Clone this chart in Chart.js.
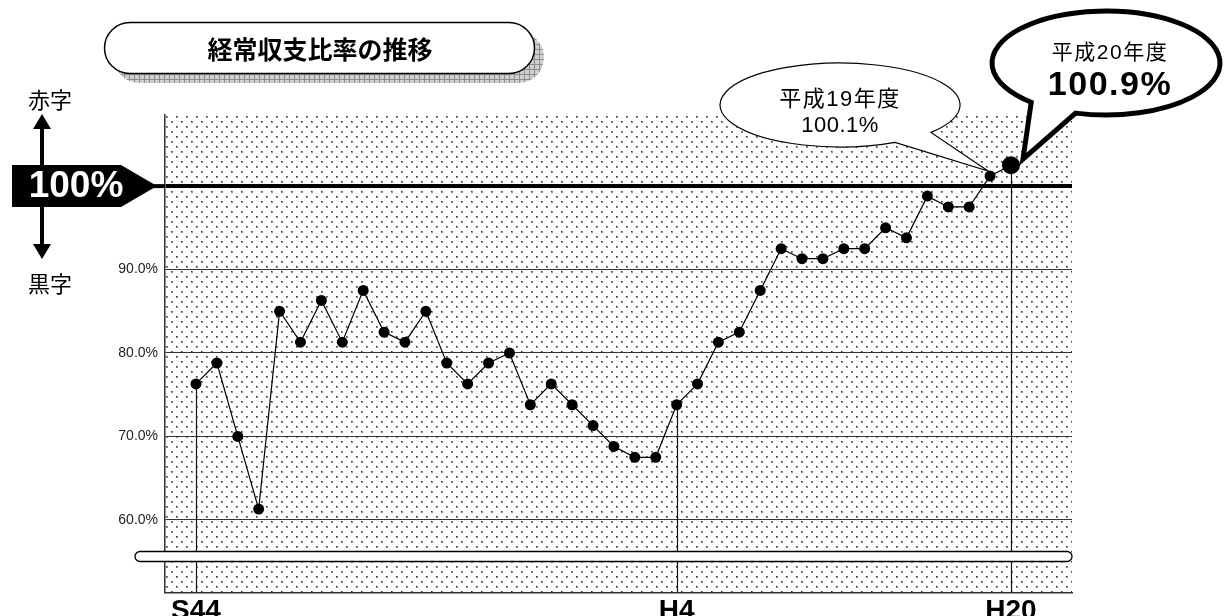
<!DOCTYPE html>
<html>
<head>
<meta charset="utf-8">
<script src="https://cdn.jsdelivr.net/npm/chart.js@4.4.0/dist/chart.umd.min.js"></script>
<style>
  html, body { margin: 0; padding: 0; background: #fff; }
  canvas { display: block; }
</style>
</head>
<body>
<canvas id="ratioChart" width="1225" height="616"></canvas>
<script>
// ── Data ─────────────────────────────────────────────────────
const YEARS = [
  1969, 1970, 1971, 1972, 1973, 1974, 1975, 1976, 1977, 1978,
  1979, 1980, 1981, 1982, 1983, 1984, 1985, 1986, 1987, 1988,
  1989, 1990, 1991, 1992, 1993, 1994, 1995, 1996, 1997, 1998,
  1999, 2000, 2001, 2002, 2003, 2004, 2005, 2006, 2007, 2008
];
const RATIO = [
  76.3, 78.8, 70.0, 61.3, 85.0, 81.3, 86.3, 81.3, 87.5, 82.5,
  81.3, 85.0, 78.8, 76.3, 78.8, 80.0, 73.8, 76.3, 73.8, 71.3,
  68.8, 67.5, 67.5, 73.8, 76.3, 81.3, 82.5, 87.5, 92.5, 91.3,
  91.3, 92.5, 92.5, 95.0, 93.8, 98.8, 97.5, 97.5, 101.2, 102.5
];
const X_TICK_YEARS  = [1969, 1992, 2008];
const X_TICK_LABELS = ['S44', 'H4', 'H20'];
const Y_TICKS       = [60, 70, 80, 90, 100];

const TITLE     = '経常収支比率の推移';
const BUBBLE_19 = ['平成19年度', '100.1%'];
const BUBBLE_20 = ['平成20年度', '100.9%'];

const FONT_LATIN = '"Liberation Sans", "Noto Sans CJK JP", sans-serif';
const FONT_JP    = '"Noto Sans CJK JP", "Liberation Sans", sans-serif';

// ── Patterns ─────────────────────────────────────────────────
function dotPattern(ctx) {
  const c = document.createElement('canvas');
  c.width = 10; c.height = 10;
  const g = c.getContext('2d');
  g.fillStyle = '#fff';
  g.fillRect(0, 0, 10, 10);
  g.fillStyle = '#8a8a8a';
  g.fillRect(1, 1, 2, 2);
  g.fillRect(6, 6, 2, 2);
  g.fillStyle = '#333';
  g.fillRect(1, 1, 1, 1);
  g.fillRect(6, 6, 1, 1);
  return ctx.createPattern(c, 'repeat');
}

function gridPattern(ctx) {
  const c = document.createElement('canvas');
  c.width = 5; c.height = 5;
  const g = c.getContext('2d');
  g.fillStyle = '#cfcfcf';
  g.fillRect(0, 0, 5, 5);
  g.fillStyle = '#8c8c8c';
  g.fillRect(4, 0, 1, 5);
  g.fillRect(0, 4, 5, 1);
  return ctx.createPattern(c, 'repeat');
}

// ── Helpers ──────────────────────────────────────────────────
function pill(ctx, x, y, w, h) {
  ctx.beginPath();
  ctx.roundRect(x, y, w, h, h / 2);
}

function bubble(ctx, cx, cy, rx, ry, aFrom, aTo, tip, lw) {
  const r = Math.PI / 180;
  ctx.beginPath();
  ctx.ellipse(cx, cy, rx, ry, 0, aFrom * r, aTo * r + Math.PI * 2, false);
  ctx.lineTo(tip.x, tip.y);
  ctx.closePath();
  ctx.fillStyle = '#fff';
  ctx.fill();
  ctx.lineWidth = lw;
  ctx.lineJoin = 'miter';
  ctx.strokeStyle = '#000';
  ctx.stroke();
}

function text(ctx, str, x, y, font, color, spacing) {
  ctx.font = font;
  ctx.fillStyle = color || '#000';
  ctx.textAlign = 'center';
  ctx.textBaseline = 'middle';
  ctx.letterSpacing = (spacing || 0) + 'px';
  ctx.fillText(str, x, y);
  ctx.letterSpacing = '0px';
}

function arrow(ctx, x, yFrom, yTo) {
  const dir = yTo < yFrom ? -1 : 1;
  ctx.strokeStyle = '#000';
  ctx.fillStyle = '#000';
  ctx.lineWidth = 4;
  ctx.beginPath();
  ctx.moveTo(x, yFrom);
  ctx.lineTo(x, yTo - dir * 14);
  ctx.stroke();
  ctx.beginPath();
  ctx.moveTo(x, yTo);
  ctx.lineTo(x - 9, yTo - dir * 15);
  ctx.lineTo(x + 9, yTo - dir * 15);
  ctx.closePath();
  ctx.fill();
}

// ── Plugins ──────────────────────────────────────────────────
const backdrop = {
  id: 'backdrop',
  beforeDraw(chart) {
    const { ctx, chartArea: a } = chart;
    ctx.save();
    ctx.fillStyle = '#fff';
    ctx.fillRect(0, 0, chart.width, chart.height);
    ctx.fillStyle = dotPattern(ctx);
    ctx.fillRect(a.left, a.top, a.right - a.left, a.bottom - a.top);
    ctx.restore();
  }
};

const dropLines = {
  id: 'dropLines',
  beforeDatasetsDraw(chart) {
    const { ctx, chartArea: a } = chart;
    const pts = chart.getDatasetMeta(0).data;
    ctx.save();
    ctx.strokeStyle = '#111';
    ctx.lineWidth = 1.2;
    X_TICK_YEARS.forEach(yr => {
      const p = pts[YEARS.indexOf(yr)];
      ctx.beginPath();
      ctx.moveTo(Math.round(p.x) + 0.5, p.y);
      ctx.lineTo(Math.round(p.x) + 0.5, a.bottom);
      ctx.stroke();
    });
    ctx.restore();
  },
  afterDatasetsDraw(chart) {
    // axis break bar
    const { ctx, chartArea: a } = chart;
    ctx.save();
    pill(ctx, a.left - 30, a.bottom - 41, a.right - a.left + 30, 10);
    ctx.fillStyle = '#fff';
    ctx.fill();
    ctx.lineWidth = 1.3;
    ctx.strokeStyle = '#000';
    ctx.stroke();
    ctx.restore();
  }
};

const decorations = {
  id: 'decorations',
  afterDraw(chart) {
    const { ctx, chartArea: a } = chart;
    const y100 = chart.scales.y.getPixelForValue(100);
    const pts = chart.getDatasetMeta(0).data;
    const p19 = pts[pts.length - 2];
    const p20 = pts[pts.length - 1];
    ctx.save();

    // title box with hatched shadow
    pill(ctx, 114, 32, 430, 51);
    ctx.fillStyle = gridPattern(ctx);
    ctx.fill();
    pill(ctx, 104.5, 22.5, 430, 51);
    ctx.fillStyle = '#fff';
    ctx.fill();
    ctx.lineWidth = 1.5;
    ctx.strokeStyle = '#000';
    ctx.stroke();
    text(ctx, TITLE, 320, 49, 'bold 25px ' + FONT_JP, '#000');

    // 赤字 / 黒字 arrows and 100% marker
    text(ctx, '赤字', 50, 100, '22px ' + FONT_JP);
    text(ctx, '黒字', 50, 284, '22px ' + FONT_JP);
    arrow(ctx, 42, y100, 114);
    arrow(ctx, 42, y100, 259);

    ctx.beginPath();
    ctx.moveTo(12, y100 - 21);
    ctx.lineTo(121, y100 - 21);
    ctx.lineTo(157, y100);
    ctx.lineTo(121, y100 + 21);
    ctx.lineTo(12, y100 + 21);
    ctx.closePath();
    ctx.fillStyle = '#000';
    ctx.fill();
    ctx.lineWidth = 4;
    ctx.beginPath();
    ctx.moveTo(150, y100);
    ctx.lineTo(a.left, y100);
    ctx.stroke();
    text(ctx, '100%', 76, y100 + 1, 'bold 37px ' + FONT_LATIN, '#fff');

    // speech bubbles
    bubble(ctx, 840, 105, 120, 42, 62.7, 40.7, { x: p19.x - 2, y: p19.y - 5 }, 1.2);
    text(ctx, BUBBLE_19[0], 840, 100, '22px ' + FONT_LATIN, '#000', 1.5);
    text(ctx, BUBBLE_19[1], 840, 126, '22px ' + FONT_LATIN, '#000', 0.5);

    bubble(ctx, 1106, 63, 114, 52, 131, 105.5, { x: p20.x + 12, y: p20.y - 6 }, 5);
    text(ctx, BUBBLE_20[0], 1110, 53, '21px ' + FONT_LATIN, '#000', 1.5);
    text(ctx, BUBBLE_20[1], 1110, 86, 'bold 34px ' + FONT_LATIN, '#000', 1.5);

    ctx.restore();
  }
};

// ── Chart ────────────────────────────────────────────────────
const last = YEARS.length - 1;

new Chart(document.getElementById('ratioChart').getContext('2d'), {
  type: 'line',
  data: {
    datasets: [{
      data: YEARS.map((yr, i) => ({ x: yr, y: RATIO[i] })),
      borderColor: '#000',
      borderWidth: 1.2,
      tension: 0,
      pointBackgroundColor: '#000',
      pointBorderWidth: 0,
      pointRadius: ctx => ctx.dataIndex === last ? 9 : 5.5,
      clip: false
    }]
  },
  options: {
    responsive: false,
    animation: false,
    devicePixelRatio: 1,
    layout: { padding: { left: 0, top: 115, right: 153, bottom: 0 } },
    plugins: { legend: { display: false }, tooltip: { enabled: false } },
    scales: {
      x: {
        type: 'linear',
        min: 1967.517,
        max: 2010.92,
        afterBuildTicks: s => { s.ticks = X_TICK_YEARS.map(v => ({ value: v })); },
        afterFit: s => { s.height = 23.5; },
        grid: { display: false },
        border: { display: true, color: '#333', width: 1.5 },
        ticks: {
          autoSkip: false,
          maxRotation: 0,
          padding: -6,
          color: '#000',
          font: { family: FONT_LATIN, size: 28, weight: 'bold' },
          callback: v => X_TICK_LABELS[X_TICK_YEARS.indexOf(v)]
        }
      },
      y: {
        min: 51.3,
        max: 108.52,
        afterBuildTicks: s => { s.ticks = Y_TICKS.map(v => ({ value: v })); },
        afterFit: s => { s.width = 165; },
        grid: {
          drawTicks: false,
          color: c => c.tick && c.tick.value === 100 ? '#000' : '#333',
          lineWidth: c => c.tick && c.tick.value === 100 ? 4 : 1
        },
        border: { display: true, color: '#333', width: 1.5 },
        ticks: {
          padding: 7,
          color: '#222',
          font: { family: FONT_LATIN, size: 14 },
          callback: v => v === 100 ? '' : v.toFixed(1) + '%'
        }
      }
    }
  },
  plugins: [backdrop, dropLines, decorations]
});
</script>
</body>
</html>
